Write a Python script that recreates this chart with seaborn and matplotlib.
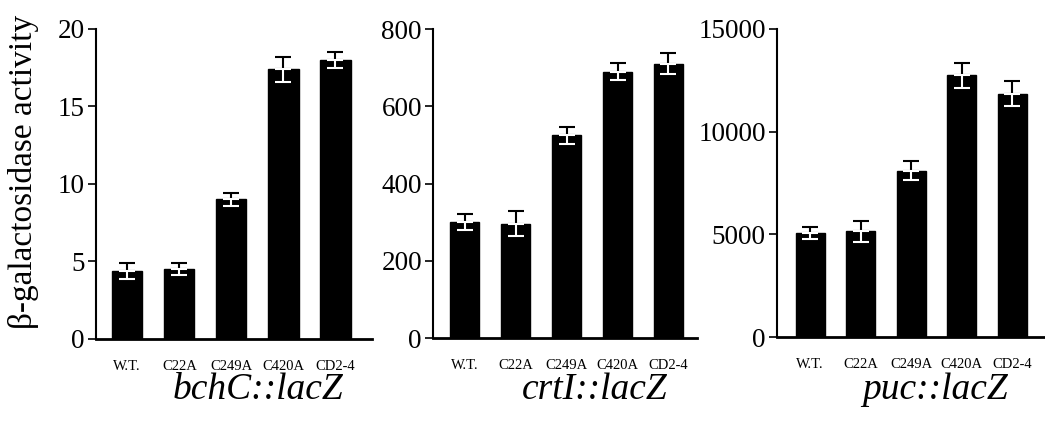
import numpy as np
import pandas as pd
import matplotlib
matplotlib.use("Agg")
import matplotlib.pyplot as plt
import seaborn as sns

# strains on the x axis
strains = ["W.T.", "C22A", "C249A", "C420A", "CD2-4"]

# beta-galactosidase activity (mean, error) per reporter
bchC_mean = [4.4, 4.5, 9.0, 17.4, 18.0]
bchC_err = [0.5, 0.4, 0.45, 0.8, 0.5]
crtI_mean = [300, 296, 525, 690, 710]
crtI_err = [21, 32, 22, 23, 27]
puc_mean = [5060, 5150, 8090, 12740, 11850]
puc_err = [310, 500, 460, 620, 600]

titles = ["bchC::lacZ", "crtI::lacZ", "puc::lacZ"]
y_ticks = [[0, 5, 10, 15, 20], [0, 200, 400, 600, 800], [0, 5000, 10000, 15000]]

sns.set_style("ticks", {"axes.edgecolor": "black", "xtick.color": "black",
                        "ytick.color": "black", "text.color": "black",
                        "axes.labelcolor": "black"})
plt.rcParams["font.family"] = ["Liberation Serif", "DejaVu Serif"]

fig = plt.figure(figsize=(10.45, 4.22), dpi=100)
boxes = [
    [0.0919, 0.1967, 0.264, 0.7346],
    [0.4144, 0.199, 0.2526, 0.732],
    [0.7435, 0.2014, 0.2565, 0.730],
]
xlims = [(-0.6, 4.7), (-0.62, 4.56), (-0.66, 4.65)]
title_x = [258, 595, 935]

panels = [(bchC_mean, bchC_err), (crtI_mean, crtI_err), (puc_mean, puc_err)]

for i, (means, errs) in enumerate(panels):
    ax = fig.add_axes(boxes[i])
    df = pd.DataFrame({"strain": strains, "activity": means})
    sns.barplot(data=df, x="strain", y="activity", color="black",
                width=0.58, ax=ax, saturation=1, edgecolor="black")
    xs = np.arange(len(strains))
    m = np.array(means)
    e = np.array(errs)
    # upper half of the error bar in black, lower half white over the bar
    ax.errorbar(xs, m, yerr=[np.zeros_like(e), e], fmt="none",
                ecolor="black", elinewidth=1.5, capsize=6, capthick=1.5)
    ax.errorbar(xs, m, yerr=[e, np.zeros_like(e)], fmt="none",
                ecolor="white", elinewidth=1.5, capsize=6, capthick=1.5)

    ax.set_xlim(*xlims[i])
    ax.set_ylim(0, y_ticks[i][-1])
    ax.set_yticks(y_ticks[i])
    ax.set_yticklabels([str(t) for t in y_ticks[i]], fontsize=19.5)
    ax.tick_params(axis="y", direction="out", length=6, width=1.2, pad=2,
                   colors="black")
    ax.tick_params(axis="x", length=0, pad=15, labelsize=10.5, colors="black")
    ax.set_xlabel("")
    ax.set_ylabel("")
    sns.despine(ax=ax)
    ax.spines["left"].set_linewidth(1.5)
    ax.spines["bottom"].set_linewidth(2)
    ax.spines["left"].set_color("black")
    ax.spines["bottom"].set_color("black")

    fig.text(title_x[i] / 1045, 1 - 390 / 422, titles[i], fontsize=27,
             style="italic", ha="center", va="center", color="black")

fig.text(24 / 1045, 1 - 172 / 422, "β-galactosidase activity", fontsize=24,
         rotation=90, ha="center", va="center", color="black")

fig.savefig("out.png", dpi=100)
